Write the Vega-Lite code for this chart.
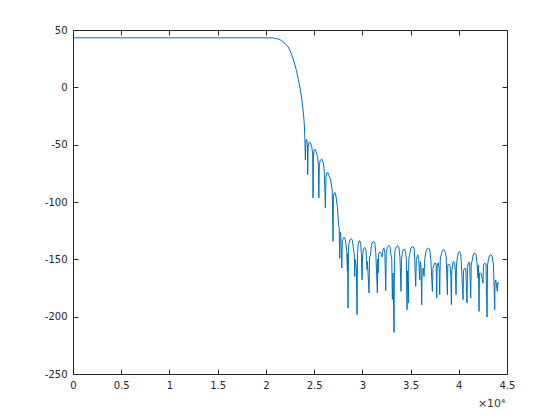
{
 "$schema": "https://vega.github.io/schema/vega-lite/v6.json",
 "width": 434, "height": 344,
 "autosize": "none",
 "padding": {"left": 73, "top": 30, "right": 53, "bottom": 46},
 "background": "white",
 "config": {
  "view": {"stroke": null},
  "font": "DejaVu Sans",
  "axis": {"grid": false, "labelFlush": false, "domainColor": "#262626", "domainWidth": 1, "tickColor": "#262626", "tickWidth": 1, "tickSize": -5, "labelColor": "#262626", "labelFont": "DejaVu Sans", "labelFontSize": 10, "labelPadding": 11, "titleFont": "DejaVu Sans", "titleFontWeight": "normal", "titleFontSize": 11, "titleColor": "#262626"}
 },
 "data": {"values": [
  {"f":0,"db":43.2},{"f":5000,"db":43.2},{"f":10000,"db":43.2},{"f":15000,"db":43.2},{"f":20000,"db":43.2},{"f":20700,"db":43.1},
  {"f":21260,"db":42.3},{"f":21606,"db":40.9},{"f":21951,"db":38.5},{"f":22297,"db":35.3},{"f":22539,"db":31.6},{"f":22746,"db":26.6},
  {"f":22953,"db":21.2},{"f":23161,"db":14.8},{"f":23368,"db":6.7},{"f":23576,"db":-2.1},{"f":23748,"db":-12.2},{"f":23887,"db":-22.4},
  {"f":23990,"db":-33},{"f":24040,"db":-45},{"f":24094,"db":-63.1},{"f":24150,"db":-46},{"f":24230,"db":-45.5},{"f":24300,"db":-50},
  {"f":24336,"db":-76.2},{"f":24380,"db":-52},{"f":24450,"db":-48.5},{"f":24530,"db":-47.5},{"f":24620,"db":-48.5},{"f":24760,"db":-52},
  {"f":24850,"db":-58},{"f":24890,"db":-96.5},{"f":24930,"db":-60},{"f":24990,"db":-55},{"f":25060,"db":-53.8},{"f":25140,"db":-54.5},
  {"f":25260,"db":-58},{"f":25350,"db":-60},{"f":25440,"db":-67},{"f":25490,"db":-96.5},{"f":25540,"db":-68},{"f":25640,"db":-63.5},
  {"f":25790,"db":-62.5},{"f":25930,"db":-65},{"f":26050,"db":-72},{"f":26168,"db":-105.3},{"f":26230,"db":-78},{"f":26330,"db":-74.5},
  {"f":26420,"db":-74.2},{"f":26530,"db":-77},{"f":26700,"db":-80},{"f":26880,"db":-90},{"f":26963,"db":-134.3},{"f":27000,"db":-95},
  {"f":27100,"db":-92},{"f":27160,"db":-91.6},{"f":27250,"db":-94},{"f":27412,"db":-103.8},{"f":27550,"db":-121.3},{"f":27600,"db":-122},
  {"f":27654,"db":-149},{"f":27700,"db":-126},{"f":27760,"db":-128},{"f":27870,"db":-157.6},{"f":27920,"db":-135},{"f":27960,"db":-133},
  {"f":28104,"db":-130.8},{"f":28242,"db":-133},{"f":28380,"db":-142},{"f":28449,"db":-160.5},{"f":28480,"db":-145},{"f":28518,"db":-192.5},
  {"f":28560,"db":-140},{"f":28620,"db":-136},{"f":28760,"db":-132.5},{"f":28864,"db":-132},{"f":28970,"db":-133.5},{"f":29060,"db":-140},
  {"f":29160,"db":-145},{"f":29210,"db":-165},{"f":29260,"db":-150},{"f":29380,"db":-157},{"f":29452,"db":-198.3},{"f":29500,"db":-145},
  {"f":29570,"db":-137},{"f":29660,"db":-134},{"f":29728,"db":-133.8},{"f":29830,"db":-136},{"f":29900,"db":-145},{"f":29970,"db":-167.8},
  {"f":30020,"db":-148},{"f":30110,"db":-141},{"f":30246,"db":-139.6},{"f":30380,"db":-142},{"f":30440,"db":-150},{"f":30488,"db":-159},
  {"f":30530,"db":-152},{"f":30592,"db":-162},{"f":30696,"db":-179.4},{"f":30750,"db":-148},{"f":30830,"db":-147},{"f":30940,"db":-138},
  {"f":31050,"db":-135},{"f":31180,"db":-134.3},{"f":31300,"db":-136},{"f":31400,"db":-145},{"f":31560,"db":-179.4},{"f":31600,"db":-150},
  {"f":31630,"db":-162},{"f":31700,"db":-145},{"f":31800,"db":-143.5},{"f":31930,"db":-145},{"f":32050,"db":-148},{"f":32150,"db":-141},
  {"f":32250,"db":-140.2},{"f":32340,"db":-145},{"f":32424,"db":-177.4},{"f":32480,"db":-145},{"f":32580,"db":-140},{"f":32735,"db":-137.8},
  {"f":32880,"db":-139},{"f":32950,"db":-145},{"f":33050,"db":-150},{"f":33115,"db":-185},{"f":33180,"db":-162},{"f":33288,"db":-213.7},
  {"f":33330,"db":-150},{"f":33400,"db":-142},{"f":33530,"db":-139},{"f":33668,"db":-138.1},{"f":33800,"db":-140},{"f":33900,"db":-148},
  {"f":34014,"db":-177.9},{"f":34060,"db":-150},{"f":34150,"db":-145},{"f":34260,"db":-141.5},{"f":34360,"db":-141},{"f":34480,"db":-143},
  {"f":34560,"db":-150},{"f":34636,"db":-194},{"f":34680,"db":-160},{"f":34774,"db":-188},{"f":34820,"db":-150},{"f":34920,"db":-145},
  {"f":35050,"db":-140},{"f":35258,"db":-138.7},{"f":35380,"db":-141},{"f":35430,"db":-150},{"f":35535,"db":-173.6},{"f":35600,"db":-150},
  {"f":35742,"db":-146},{"f":35850,"db":-150},{"f":35949,"db":-167.8},{"f":36000,"db":-152},{"f":36080,"db":-155},{"f":36157,"db":-189.6},
  {"f":36200,"db":-160},{"f":36300,"db":-157.6},{"f":36400,"db":-165},{"f":36468,"db":-150},{"f":36600,"db":-143},{"f":36750,"db":-140.5},
  {"f":36883,"db":-140.2},{"f":37000,"db":-142},{"f":37100,"db":-150},{"f":37263,"db":-178},{"f":37320,"db":-158},{"f":37420,"db":-155},
  {"f":37550,"db":-153},{"f":37660,"db":-155},{"f":37712,"db":-183.8},{"f":37760,"db":-155},{"f":37870,"db":-153},{"f":37970,"db":-158},
  {"f":38023,"db":-180.8},{"f":38080,"db":-150},{"f":38200,"db":-145},{"f":38330,"db":-142},{"f":38438,"db":-141.6},{"f":38560,"db":-143},
  {"f":38700,"db":-148},{"f":38818,"db":-180.8},{"f":38860,"db":-155},{"f":38960,"db":-154},{"f":39100,"db":-156},{"f":39180,"db":-165},
  {"f":39233,"db":-189.6},{"f":39280,"db":-160},{"f":39410,"db":-152},{"f":39560,"db":-153},{"f":39650,"db":-160},{"f":39717,"db":-180.8},
  {"f":39760,"db":-155},{"f":39860,"db":-148},{"f":39960,"db":-144},{"f":40063,"db":-143},{"f":40180,"db":-145},{"f":40260,"db":-152},
  {"f":40443,"db":-185.2},{"f":40490,"db":-160},{"f":40580,"db":-158},{"f":40720,"db":-158},{"f":40858,"db":-188.1},{"f":40900,"db":-158},
  {"f":40990,"db":-153},{"f":41130,"db":-152.5},{"f":41238,"db":-183.8},{"f":41290,"db":-155},{"f":41480,"db":-147},{"f":41560,"db":-145},
  {"f":41652,"db":-144.5},{"f":41790,"db":-146},{"f":41880,"db":-152},{"f":41998,"db":-166.3},{"f":42040,"db":-155},{"f":42102,"db":-195.4},
  {"f":42140,"db":-162},{"f":42230,"db":-162},{"f":42340,"db":-162.5},{"f":42516,"db":-170.7},{"f":42560,"db":-155},{"f":42660,"db":-153.5},
  {"f":42820,"db":-154},{"f":42931,"db":-200.3},{"f":42980,"db":-155},{"f":43100,"db":-149},{"f":43200,"db":-146.5},{"f":43311,"db":-146},
  {"f":43450,"db":-147},{"f":43600,"db":-155},{"f":43726,"db":-193.9},{"f":43760,"db":-170},{"f":43830,"db":-168},{"f":44002,"db":-178},
  {"f":44050,"db":-170},{"f":44100,"db":-172}
 ]},
 "layer": [
  {
   "mark": {"type": "line", "color": "#0072BD", "strokeWidth": 1, "clip": true},
   "encoding": {
    "x": {"field": "f", "type": "quantitative", "scale": {"domain": [0, 45000], "nice": false},
     "axis": {"orient": "bottom", "values": [0,5000,10000,15000,20000,25000,30000,35000,40000,45000], "labelExpr": "'' + datum.value/10000", "title": "×10⁴", "titleAnchor": "end", "titleAlign": "right", "titleBaseline": "alphabetic", "titleX": 432, "titleY": 32, "titleColor": "#3a3a3a"}},
    "y": {"field": "db", "type": "quantitative", "scale": {"domain": [-250, 50], "nice": false},
     "axis": {"orient": "left", "values": [-250,-200,-150,-100,-50,0,50], "labelExpr": "'' + datum.value", "title": null}}
   }
  },
  {
   "mark": {"type": "line", "opacity": 0},
   "encoding": {
    "x": {"field": "f", "type": "quantitative", "axis": {"orient": "top", "values": [0,5000,10000,15000,20000,25000,30000,35000,40000,45000], "labels": false, "title": null}},
    "y": {"field": "db", "type": "quantitative", "axis": {"orient": "right", "values": [-250,-200,-150,-100,-50,0,50], "labels": false, "title": null}}
   }
  }
 ],
 "resolve": {"axis": {"x": "independent", "y": "independent"}}
}
